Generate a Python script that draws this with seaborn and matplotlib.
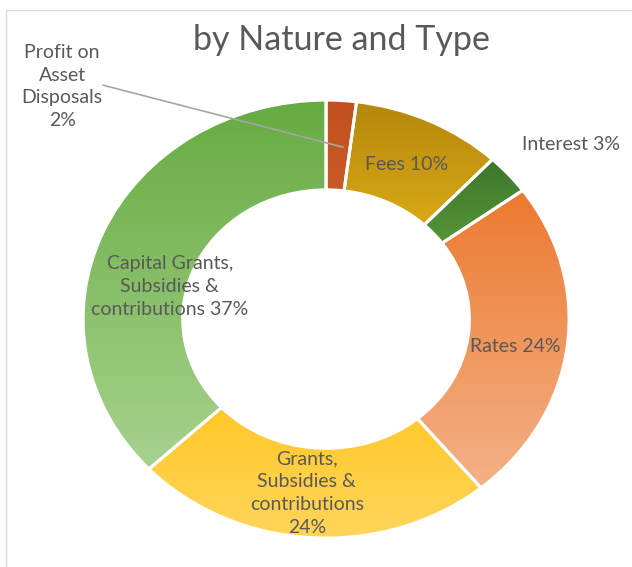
import matplotlib.pyplot as plt
import matplotlib.colors as mcolors
import numpy as np
import seaborn as sns

labels = ['Profit on\nAsset\nDisposals\n2%', 'Fees 10%', 'Interest 3%', 'Rates 24%',
          'Grants,\nSubsidies &\ncontributions\n24%', 'Capital Grants,\nSubsidies &\ncontributions 37%']
values = [2, 10, 3, 24, 24, 37]
top_colors = ['#C0501F', '#B5870C', '#3C772B', '#EC7A30', '#FFBF05', '#66AB41']
bottom_colors = ['#D9692E', '#F4C31E', '#6EB045', '#F4B187', '#FFD55C', '#A8D28E']

sns.set_theme(style='white')
plt.rcParams['font.family'] = ['Lato', 'DejaVu Sans']

fig = plt.figure(figsize=(6.32, 5.67), dpi=100)
ax = fig.add_axes([0, 0, 1, 1])

wedges, _ = ax.pie(values, startangle=90, counterclock=False, colors=top_colors,
                   radius=1, wedgeprops=dict(width=0.41, edgecolor='white', linewidth=2.2))

# vertical gradient fill per wedge (dark on top, light at the bottom)
for w, c1, c2 in zip(wedges, top_colors, bottom_colors):
    v = w.get_path().vertices
    x0, x1 = v[:, 0].min(), v[:, 0].max()
    y0, y1 = v[:, 1].min(), v[:, 1].max()
    a = np.array(mcolors.to_rgb(c1))
    b = np.array(mcolors.to_rgb(c2))
    t = np.linspace(0, 1, 200)[:, None]
    grad = (a * (1 - t) + b * t)[:, None, :]
    im = ax.imshow(grad, extent=(x0, x1, y0, y1), origin='upper', aspect='auto',
                   zorder=w.get_zorder() - 0.1, interpolation='bilinear')
    im.set_clip_path(w)
    w.set_facecolor('none')

ax.set_aspect('auto')
ax.set_xlim(-1.342, 1.259)
ax.set_ylim(-1.132, 1.457)
ax.axis('off')

# label placement (polar: radius, angle in degrees) for inside labels
txt = '#595959'
fs = 14
ls = 1.42
place = {
    1: (0.78, 65),
    3: (0.79, -9),
    4: (0.80, -95.7),
    5: (0.66, 167),
}
for i, (r, a) in place.items():
    x, y = r * np.cos(np.radians(a)), r * np.sin(np.radians(a))
    ax.text(x, y, labels[i], ha='center', va='center', fontsize=fs, color=txt,
            linespacing=ls, zorder=5)

ax.text(1.01, 0.795, labels[2], ha='center', va='center', fontsize=fs, color=txt)
ax.text(-1.086, 1.062, labels[0], ha='center', va='center', fontsize=fs, color=txt, linespacing=ls)
ax.plot([-0.918, 0.07], [1.068, 0.785], color='#A6A6A6', lw=1.2, zorder=5)

fig.text(0.54, 0.93, 'by Nature and Type', ha='center', va='center', fontsize=24.5, color=txt)

fig.patches.append(plt.Rectangle((0.009, -0.01), 1.0, 0.993, transform=fig.transFigure,
                                 fill=False, edgecolor='#D9D9D9', lw=1))

fig.savefig('out.png', dpi=100)
